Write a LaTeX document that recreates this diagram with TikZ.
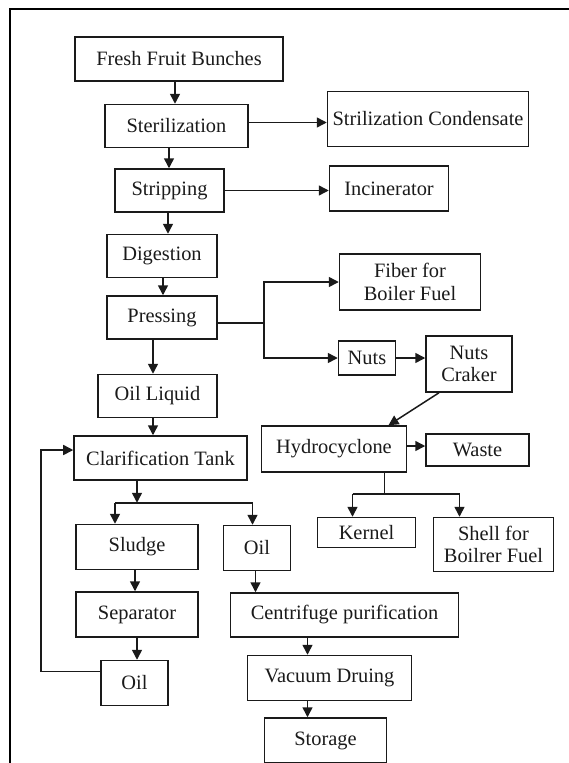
\documentclass[tikz,border=0pt]{standalone}
\usepackage{fontspec}
\setmainfont{Liberation Serif}
\usetikzlibrary{arrows.meta,positioning}
\definecolor{inkcol}{HTML}{1A1A1A}

\begin{document}
\begin{tikzpicture}[x=1bp,y=-1bp,
        box/.style={draw=inkcol,line width=1.5bp,text=inkcol,align=center,
          font=\fontsize{20.4bp}{22.5bp}\selectfont,inner sep=1bp},
        arr/.style={-{Triangle[length=10bp,width=10bp]},inkcol,line width=1.5bp},
        ln/.style={inkcol,line width=1.5bp}]
        \useasboundingbox (0,0) rectangle (569,763);
        \draw[black,line width=2bp] (10,763) -- (10,9) -- (569,9);
        % main line
        \node[box,minimum width=208bp,minimum height=44bp] (ffb) at (179,59) {Fresh Fruit Bunches};
        \node[box,minimum width=143bp,minimum height=43bp,below=22bp of ffb,xshift=-2.5bp] (ster) {Sterilization};
        \node[box,minimum width=109bp,minimum height=43bp,below=20bp of ster,xshift=-7bp] (strip) {Stripping};
        \node[box,minimum width=110bp,minimum height=43bp,below=21bp of strip,xshift=-7.5bp] (dig) {Digestion};
        \node[box,minimum width=110bp,minimum height=43bp,below=17bp of dig] (press) {Pressing};
        \node[box,minimum width=119bp,minimum height=43bp,below=34bp of press,xshift=-4.5bp] (oilliq) {Oil Liquid};
        \node[box,minimum width=173bp,minimum height=44bp,below=17bp of oilliq,xshift=3bp] (clar) {Clarification Tank};
        \node[box,minimum width=122bp,minimum height=45bp,below=43bp of clar,xshift=-23.5bp] (sludge) {Sludge};
        \node[box,minimum width=122bp,minimum height=45bp,below=21bp of sludge] (sep) {Separator};
        \node[box,minimum width=67bp,minimum height=45bp,below=22bp of sep,xshift=-2.5bp] (oilbot) {Oil};
        \node[box,minimum width=67bp,minimum height=45bp,right=24bp of sludge,yshift=-1bp] (oilmid) {Oil};
        \node[box,minimum width=228bp,minimum height=44bp,below=21bp of oilmid,xshift=87.5bp] (centri) {Centrifuge purification};
        \node[box,minimum width=164bp,minimum height=45bp,below=17bp of centri,xshift=-15bp] (vac) {Vacuum Druing};
        \node[box,minimum width=122bp,minimum height=45bp,below=16bp of vac,xshift=-4bp] (stor) {Storage};
        % side products
        \node[box,minimum width=201bp,minimum height=55bp,right=78bp of ster,yshift=7bp] (cond) {Strilization Condensate};
        \node[box,minimum width=119bp,minimum height=45bp,right=104bp of strip,yshift=2bp] (incin) {Incinerator};
        \node[box,minimum width=141bp,minimum height=56bp,right=121bp of press,yshift=35.5bp] (fiber) {Fiber for\\Boiler Fuel};
        \node[box,minimum width=57bp,minimum height=34bp,right=120bp of press,yshift=-40.5bp] (nuts) {Nuts};
        \node[box,minimum width=86bp,minimum height=56bp,right=29bp of nuts,yshift=-6bp] (craker) {Nuts\\Craker};
        \node[box,minimum width=145bp,minimum height=46bp,right=13bp of clar,yshift=9bp] (hydro) {Hydrocyclone};
        \node[box,minimum width=103bp,minimum height=32bp,right=18bp of hydro,yshift=-1bp] (waste) {Waste};
        \node[box,minimum width=98bp,minimum height=30bp,below=44bp of hydro,xshift=32.5bp] (kernel) {Kernel};
        \node[box,minimum width=120bp,minimum height=54bp,below=44bp of hydro,xshift=159.5bp] (shell) {Shell for\\Boilrer Fuel};
        % arrows down the main line
        \draw[arr]([xshift=-4bp]ffb.south)--([xshift=-4bp]ffb.south |- ster.north);
        \draw[arr]([xshift=-7.5bp]ster.south)--([xshift=-7.5bp]ster.south |- strip.north);
        \draw[arr]([xshift=-1.5bp]strip.south)--([xshift=-1.5bp]strip.south |- dig.north);
        \draw[arr]([xshift=1bp]dig.south)--([xshift=1bp]dig.south |- press.north);
        \draw[arr]([xshift=-9bp]press.south)--([xshift=-9bp]press.south |- oilliq.north);
        \draw[arr]([xshift=-4.5bp]oilliq.south)--([xshift=-4.5bp]oilliq.south |- clar.north);
        \draw[arr]([xshift=-2bp]sludge.south)--([xshift=-2bp]sludge.south |- sep.north);
        \draw[arr](sep.south)--(sep.south |- oilbot.north);
        \draw[arr]([xshift=-1.5bp]oilmid.south)--([xshift=-1.5bp]oilmid.south |- centri.north);
        \draw[arr]([xshift=-37bp]centri.south)--([xshift=-37bp]centri.south |- vac.north);
        \draw[arr]([xshift=-22bp]vac.south)--([xshift=-22bp]vac.south |- stor.north);
        % clarification split
        \coordinate (split) at ([xshift=-23.5bp,yshift=-22bp]clar.south);
        \coordinate (sl) at ([xshift=-22bp]sludge.north);
        \coordinate (om) at ([xshift=-4.5bp]oilmid.north);
        \draw[arr]([xshift=-23.5bp]clar.south)--(split);
        \draw[ln](sl |- split)--(om |- split);
        \draw[arr](sl |- split)--(sl);
        \draw[arr](om |- split)--(om);
        % recycled oil
        \draw[arr]([yshift=11.5bp]oilbot.west)--++(-59bp,0)|-([yshift=8bp]clar.west);
        % side branches
        \draw[arr]([yshift=3.5bp]ster.east)--([yshift=3.5bp]ster.east -| cond.west);
        \draw[arr](strip.east)--(strip.east -| incin.west);
        \draw[ln]([yshift=-5.5bp]press.east)--++(46bp,0) coordinate (br);
        \draw[arr](br)|-(fiber.west);
        \draw[arr](br)|-(nuts.west);
        \draw[arr](nuts.east)--(nuts.east -| craker.west);
        \draw[arr]([xshift=-30bp]craker.south)--([xshift=54.5bp]hydro.north);
        \draw[arr]([yshift=3bp]hydro.east)--([yshift=3bp]hydro.east -| waste.west);
        % hydrocyclone split
        \coordinate (hsplit) at ([xshift=50.5bp,yshift=-21bp]hydro.south);
        \coordinate (kn) at ([xshift=-14bp]kernel.north);
        \coordinate (sh) at ([xshift=-34bp]shell.north);
        \draw[ln]([xshift=50.5bp]hydro.south)--(hsplit);
        \draw[ln](kn |- hsplit)--(sh |- hsplit);
        \draw[arr](kn |- hsplit)--(kn);
        \draw[arr](sh |- hsplit)--(sh);
      \end{tikzpicture}
\end{document}
